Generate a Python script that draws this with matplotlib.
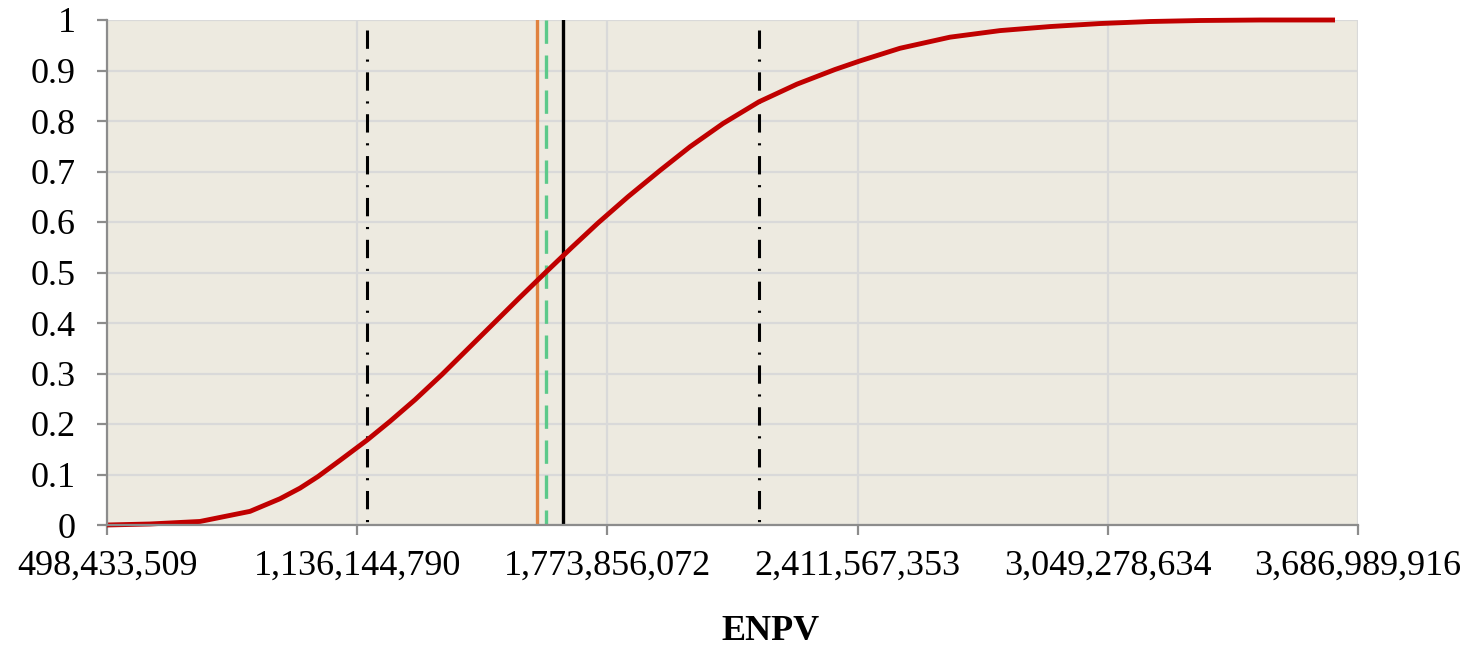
import matplotlib
matplotlib.use("Agg")
import matplotlib.pyplot as plt

# ---- data ----
enpv = [498433509, 608000000, 735500000, 862900000, 939400000, 990400000,
        1036300000, 1092300000, 1161100000, 1219400000, 1283500000,
        1352300000, 1416000000, 1482300000, 1548500000, 1614800000,
        1683600000, 1749900000, 1826400000, 1907900000, 1984400000,
        2068500000, 2160200000, 2257100000, 2354000000, 2417700000,
        2519600000, 2647100000, 2774500000, 2902000000, 3029400000,
        3156900000, 3284300000, 3437200000, 3628400000]
cum_prob = [0.0, 0.002, 0.007, 0.027, 0.052, 0.073,
            0.096, 0.128, 0.168, 0.205, 0.248,
            0.298, 0.347, 0.398, 0.449, 0.499,
            0.550, 0.598, 0.650, 0.702, 0.749,
            0.795, 0.838, 0.873, 0.902, 0.919,
            0.944, 0.966, 0.979, 0.987, 0.993,
            0.997, 0.999, 1.0, 1.0]

lower_bound = 1161100000
upper_bound = 2160200000
orange_line = 1593600000
green_line = 1617400000
black_line = 1660000000

x_ticks = [498433509, 1136144790, 1773856072, 2411567353, 3049278634, 3686989916]
x_tick_labels = ["498,433,509", "1,136,144,790", "1,773,856,072",
                 "2,411,567,353", "3,049,278,634", "3,686,989,916"]
y_ticks = [0, 0.1, 0.2, 0.3, 0.4, 0.5, 0.6, 0.7, 0.8, 0.9, 1.0]
y_tick_labels = ["0", "0.1", "0.2", "0.3", "0.4", "0.5", "0.6", "0.7", "0.8", "0.9", "1"]
x_label = "ENPV"

# ---- figure ----
plt.rcParams['font.family'] = ['Liberation Serif', 'DejaVu Serif']
W, H = 1473, 647
fig = plt.figure(figsize=(W / 100, H / 100), dpi=100)
ax = fig.add_axes([107 / W, (H - 525) / H, (1358 - 107) / W, (525 - 20) / H])
ax.set_facecolor('#EDEAE0')

ax.set_xlim(x_ticks[0], x_ticks[-1])
ax.set_ylim(0, 1)
ax.set_xticks(x_ticks)
ax.set_xticklabels(x_tick_labels)
ax.set_yticks(y_ticks)
ax.set_yticklabels(y_tick_labels)

ax.grid(True, color='#D9D9D9', linewidth=1.6)
ax.set_axisbelow(True)
for s in ['top', 'right']:
    ax.spines[s].set_visible(False)
for s in ['left', 'bottom']:
    ax.spines[s].set_color('#8C8C8C')
    ax.spines[s].set_linewidth(1.6)
    ax.spines[s].set_zorder(5)

ax.tick_params(axis='both', direction='out', length=7.5, width=1.6,
               color='#8C8C8C', labelsize=26, labelcolor='black')
ax.tick_params(axis='y', pad=15)
ax.tick_params(axis='x', pad=10)

# vertical reference lines
for xv in (lower_bound, upper_bound):
    ax.plot([xv, xv], [0.98, 0.0], color='black', linewidth=2.2,
            dashes=(6, 3.5, 0.7, 3.5), solid_capstyle='butt', zorder=3)
ax.plot([orange_line, orange_line], [0, 1], color='#E0823F', linewidth=2.4, zorder=3)
ax.plot([green_line, green_line], [1, 0], color='#5CC98A', linewidth=2.4,
        dashes=(7, 3.5), zorder=3)
ax.plot([black_line, black_line], [0, 1], color='black', linewidth=2.4, zorder=3)

# cumulative curve
ax.plot(enpv, cum_prob, color='#C00000', linewidth=3.5, zorder=4,
        clip_on=False, solid_capstyle='butt', solid_joinstyle='round')

fig.text(770 / W, 1 - 632 / H, x_label, ha='center', va='center',
         fontsize=26, fontweight='bold')

fig.savefig('out.png', dpi=100)
